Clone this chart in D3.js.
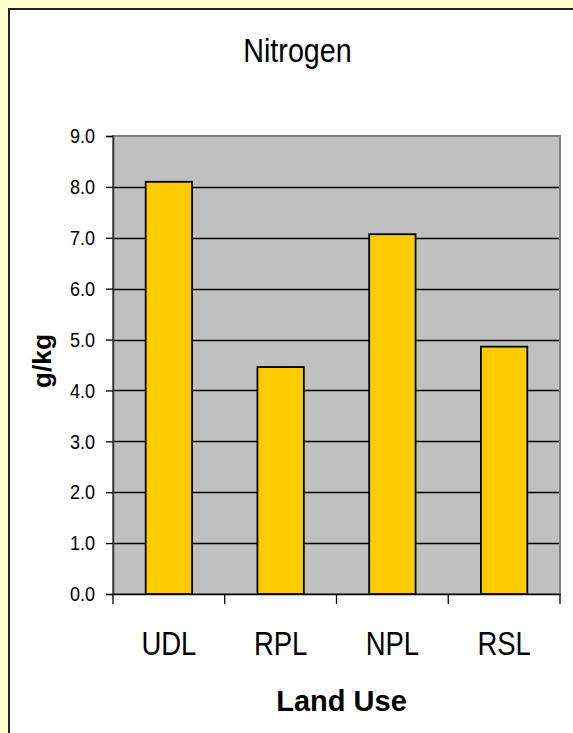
<!DOCTYPE html>
<html>
<head>
<meta charset="utf-8">
<script src="https://cdn.jsdelivr.net/npm/d3@7"></script>
<style>
  body { margin: 0; background: #FFFFCC; }
  svg { display: block; }
  text { font-family: "Liberation Sans", Arial, sans-serif; }
</style>
</head>
<body>
<div id="chart"></div>
<script>
// data
const landUses = ["UDL", "RPL", "NPL", "RSL"];
const nitrogen = [8.1, 4.46, 7.07, 4.86];
const yTicks = [0, 1, 2, 3, 4, 5, 6, 7, 8, 9];

const width = 573, height = 733;
const plot = { left: 113, right: 560, top: 136, bottom: 594 };

// the original text is a bit taller than it is wide
function stretch(sel, s, baseline) {
    sel.attr("y", baseline / s).attr("transform", `scale(1,${s})`);
}

const svg = d3.select("#chart")
    .append("svg")
    .attr("width", width)
    .attr("height", height);

// yellow page with white chart box
svg.append("rect")
    .attr("width", width).attr("height", height)
    .attr("fill", "#FFFFCC");
svg.append("rect")
    .attr("x", 9).attr("y", 9)
    .attr("width", width).attr("height", height)
    .attr("fill", "#fff")
    .attr("stroke", "#222")
    .attr("stroke-width", 2);

const x = d3.scaleBand()
    .domain(landUses)
    .range([plot.left, plot.right])
    .padding(0);

const y = d3.scaleLinear()
    .domain([0, 9])
    .range([plot.bottom, plot.top]);

// plot area
svg.append("rect")
    .attr("x", plot.left).attr("y", plot.top)
    .attr("width", plot.right - plot.left)
    .attr("height", plot.bottom - plot.top)
    .attr("fill", "#C0C0C0")
    .attr("stroke", "#808080")
    .attr("stroke-width", 2);

// gridlines
svg.append("g")
    .selectAll("line")
    .data(yTicks.filter(d => d > 0 && d < 9))
    .join("line")
    .attr("x1", plot.left).attr("x2", plot.right - 1)
    .attr("y1", d => Math.round(y(d)) + 0.5)
    .attr("y2", d => Math.round(y(d)) + 0.5)
    .attr("stroke", "#000")
    .attr("stroke-width", 1.3);

// bars
const barW = x.bandwidth() * 0.415;
svg.append("g")
    .selectAll("rect")
    .data(nitrogen)
    .join("rect")
    .attr("x", (d, i) => x(landUses[i]) + (x.bandwidth() - barW) / 2)
    .attr("y", d => y(d))
    .attr("width", barW)
    .attr("height", d => y(0) - y(d))
    .attr("fill", "#FFCC00")
    .attr("stroke", "#000")
    .attr("stroke-width", 1.8);

// y axis
const yAxis = svg.append("g")
    .attr("transform", `translate(${plot.left},0)`)
    .call(d3.axisLeft(y).tickValues(yTicks).tickSize(7).tickPadding(11)
        .tickFormat(d3.format(".1f")));
yAxis.select(".domain").attr("stroke", "#333").attr("stroke-width", 1.5);
yAxis.selectAll(".tick line").attr("stroke", "#000").attr("stroke-width", 1.3);
yAxis.selectAll("text")
    .attr("font-size", 18)
    .attr("font-family", "Liberation Sans, Arial, sans-serif")
    .attr("fill", "#000")
    .call(stretch, 1.16, 0);

// x axis
const xAxis = svg.append("g")
    .attr("transform", `translate(0,${plot.bottom})`)
    .call(d3.axisBottom(x).tickSize(0).tickPadding(0));
xAxis.select(".domain").attr("stroke", "#000").attr("stroke-width", 1.5);
xAxis.selectAll(".tick text")
    .attr("dy", 0)
    .attr("font-size", 27.5)
    .attr("font-family", "Liberation Sans, Arial, sans-serif")
    .attr("fill", "#000")
    .call(stretch, 1.24, 61);
// category boundary ticks
xAxis.append("g")
    .selectAll("line")
    .data(landUses.concat(["end"]))
    .join("line")
    .attr("x1", (d, i) => i < landUses.length ? x(d) : plot.right)
    .attr("x2", (d, i) => i < landUses.length ? x(d) : plot.right)
    .attr("y1", 0).attr("y2", 10)
    .attr("stroke", "#000")
    .attr("stroke-width", 1.3);

// title and axis titles
svg.append("text")
    .attr("x", 297.5)
    .attr("text-anchor", "middle")
    .attr("font-size", 28.7)
    .text("Nitrogen")
    .call(stretch, 1.14, 62);

svg.append("text")
    .attr("x", 341.5).attr("y", 711)
    .attr("text-anchor", "middle")
    .attr("font-size", 29)
    .attr("font-weight", "bold")
    .text("Land Use");

svg.append("text")
    .attr("transform", "translate(51,361) rotate(-90)")
    .attr("text-anchor", "middle")
    .attr("font-size", 26.5)
    .attr("font-weight", "bold")
    .text("g/kg");
</script>
</body>
</html>
